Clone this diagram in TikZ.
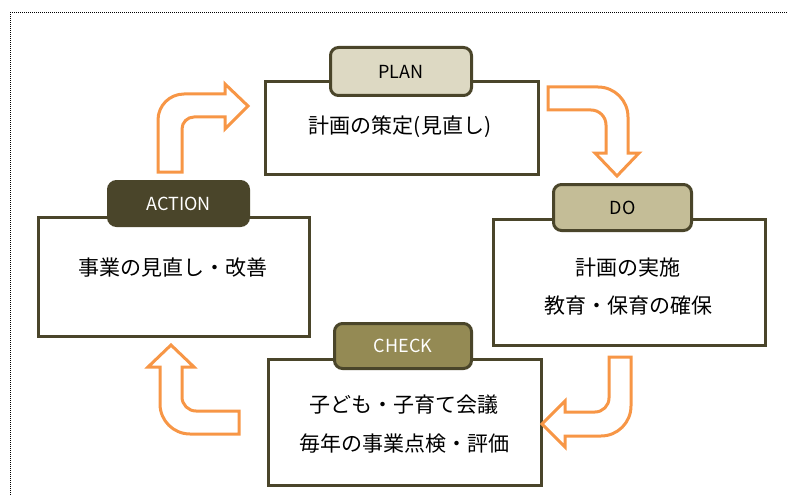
\documentclass[tikz,border=0pt]{standalone}
\usepackage{fontspec}
\setmainfont{Noto Sans CJK JP}
\definecolor{boxline}{HTML}{4A452A}
\definecolor{arrorange}{HTML}{F79646}
\definecolor{planfill}{HTML}{DDD9C3}
\definecolor{dofill}{HTML}{C4BD97}
\definecolor{checkfill}{HTML}{948A54}
\definecolor{actfill}{HTML}{4A452A}
\begin{document}
\begin{tikzpicture}[x=1pt,y=-1pt,
  mainbox/.style={draw=boxline, line width=3pt, fill=white, anchor=north west, inner sep=0pt},
  labelbox/.style={draw=boxline, line width=3pt, rounded corners=8pt, anchor=north west, inner sep=0pt, font=\fontsize{18}{21}\selectfont},
  bodytext/.style={font=\fontsize{21}{25}\selectfont, text=black, inner sep=0pt},
  cyc/.style={draw=arrorange, line width=3pt, fill=white, line join=miter}]
\useasboundingbox (0,0) rectangle (788,495);
\draw[densely dotted, line width=1pt, black] (10,495) -- (10,13) -- (788,13);

% main boxes
\node[mainbox, minimum width=273, minimum height=93] (plan) at (264,80) {};
\node[mainbox, minimum width=272, minimum height=126] (do) at (492,218) {};
\node[mainbox, minimum width=273, minimum height=126] (check) at (267,358) {};
\node[mainbox, minimum width=271, minimum height=119] (act) at (37,216) {};

% labels
\node[labelbox, fill=planfill, minimum width=141, minimum height=48, text=black] (planlab) at (329,46) {PLAN};
\node[labelbox, fill=dofill, minimum width=138, minimum height=46, text=black] (dolab) at (552,183) {DO};
\node[labelbox, fill=checkfill, minimum width=137, minimum height=45, text=white] (checklab) at (333,322) {CHECK};
\node[labelbox, fill=actfill, minimum width=140, minimum height=44, text=white] (actlab) at (107,180) {ACTION};

% texts
\node[bodytext] (plant) at (400,127) {計画の策定(見直し)};
\node[bodytext] (dot1) at (628,268) {計画の実施};
\node[bodytext] (dot2) at (628,306) {教育・保育の確保};
\node[bodytext] (ct1) at (404,405) {子ども・子育て会議};
\node[bodytext] (ct2) at (404,444) {毎年の事業点検・評価};
\node[bodytext] (actt) at (173,268) {事業の見直し・改善};

% arrows
\draw[cyc] (158,172) -- (158,120) .. controls (158,105.6) and (169.6,94) .. (184,94) -- (225,94) -- (225,84) -- (248,106) -- (225,129) -- (225,117) -- (194,117) .. controls (187.4,117) and (182,122.4) .. (182,129) -- (182,172) -- cycle;
\draw[cyc] (548,87) -- (598,87) .. controls (614.6,87) and (628,100.4) .. (628,117) -- (628,153) -- (639,153) -- (617,176) -- (595,153) -- (606,153) -- (606,125) .. controls (606,116.7) and (599.3,110) .. (591,110) -- (548,110) -- cycle;
\draw[cyc] (609,357) -- (631,357) -- (631,406) .. controls (631,422.6) and (617.6,436) .. (601,436) -- (565,436) -- (565,447) -- (542,424) -- (565,401) -- (565,412) -- (595,412) .. controls (602.7,412) and (609,405.7) .. (609,398) -- cycle;
\draw[cyc] (239,411) -- (239,434) -- (190,434) .. controls (173.4,434) and (160,420.6) .. (160,404) -- (160,367) -- (148,367) -- (171,345) -- (194,367) -- (182,367) -- (182,397) .. controls (182,404.7) and (188.3,411) .. (196,411) -- cycle;
\end{tikzpicture}
\end{document}
